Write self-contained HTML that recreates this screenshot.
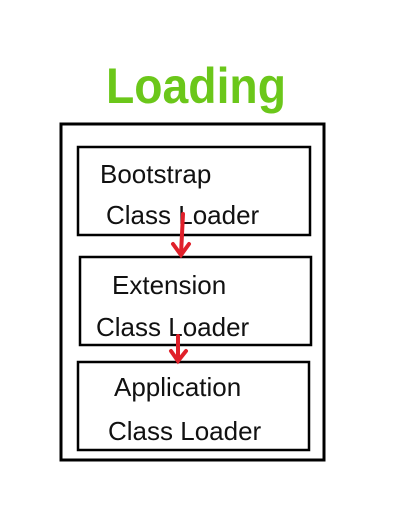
<!DOCTYPE html>
<html><head><meta charset="utf-8"><style>
html,body{margin:0;padding:0;background:#fff;width:408px;height:530px;overflow:hidden}
svg{display:block}
text{font-family:"Liberation Sans",sans-serif}
</style></head><body>
<svg width="408" height="530" viewBox="0 0 408 530">
<text x="196" y="103" text-anchor="middle" font-size="50" fill="#6bc71a" font-weight="bold" textLength="180" lengthAdjust="spacingAndGlyphs">Loading</text>
<rect x="61" y="124" width="263" height="336" fill="none" stroke="#000" stroke-width="3"/>
<rect x="78" y="147" width="232" height="88" fill="none" stroke="#000" stroke-width="2.5"/>
<rect x="80" y="257" width="231" height="88" fill="none" stroke="#000" stroke-width="2.5"/>
<rect x="78" y="362" width="231" height="88" fill="none" stroke="#000" stroke-width="2.5"/>
<g font-size="26" fill="#111">
<text x="100" y="183">Bootstrap</text>
<text x="106" y="224">Class Loader</text>
<text x="112" y="294">Extension</text>
<text x="96" y="336">Class Loader</text>
<text x="114" y="396">Application</text>
<text x="108" y="440">Class Loader</text>
</g>
<g stroke="#e0202a" stroke-width="4" fill="none" stroke-linecap="round">
<path d="M183 214 L181 254"/>
<path d="M173 244 L181 255 L189 244"/>
<path d="M178 336 L178 360"/>
<path d="M171 351 L178 361 L186 351"/>
</g>
</svg>
</body></html>
